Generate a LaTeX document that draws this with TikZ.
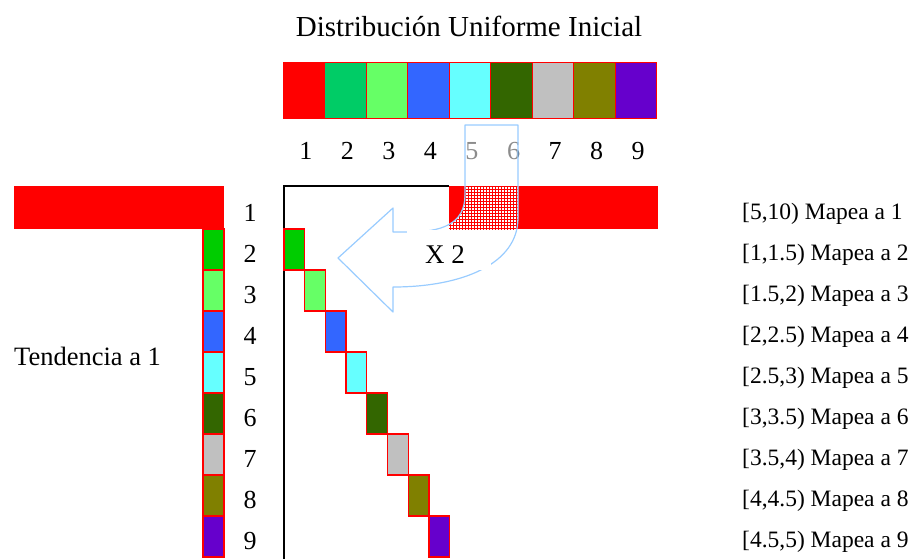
\documentclass[tikz,border=0pt]{standalone}
\usepackage{fontspec}
\setmainfont{Liberation Serif}
\usetikzlibrary{patterns}
\definecolor{cA}{HTML}{FF0000}
\definecolor{cBt}{HTML}{00CC66}
\definecolor{cB}{HTML}{00CC00}
\definecolor{cC}{HTML}{66FF66}
\definecolor{cD}{HTML}{3366FF}
\definecolor{cE}{HTML}{66FFFF}
\definecolor{cF}{HTML}{336600}
\definecolor{cG}{HTML}{C0C0C0}
\definecolor{cH}{HTML}{808000}
\definecolor{cI}{HTML}{6600CC}
\definecolor{arrowblue}{HTML}{99CCFF}
\tikzset{
  cellbox/.style={draw=red, line width=1.3pt},
  digit/.style={font=\fontsize{26}{26}\selectfont, anchor=base, inner sep=0pt},
  maplabel/.style={font=\fontsize{23.5}{23.5}\selectfont, anchor=base west, inner sep=0pt},
  frameline/.style={draw=black, line width=1.6pt},
}
\def\arrowpath{(465,125) -- (518,125) -- (518,218) .. controls (518,264) and (462,287) .. (393,287) -- (393,312) -- (338,258) -- (393,208) -- (393,232) -- (408,232) .. controls (440,232) and (465,225) .. (465,195) -- cycle}
\begin{document}
\begin{tikzpicture}[x=1pt,y=-1pt]
\useasboundingbox (0,0) rectangle (917,558);
% title
\node[font=\fontsize{29}{29}\selectfont, anchor=base, inner sep=0pt] (title) at (469,36) {Distribución Uniforme Inicial};
% top bar
\foreach \c [count=\k from 0] in {cA,cBt,cC,cD,cE,cF,cG,cH,cI}{
  \draw[cellbox, line width=1pt, fill=\c] (283+41.55*\k,62) rectangle (283+41.55*\k+41.55,118);
}
\foreach \k in {1,...,9}{
  \node[digit] (top\k) at (283+41.55*\k-20.8+2,159) {\k};
}
% left red bar
\fill[red] (14,186) rectangle (224,229);
% left column
\foreach \c [count=\k from 0] in {cB,cC,cD,cE,cF,cG,cH,cI}{
  \draw[cellbox, fill=\c] (203,229+41*\k) rectangle (224,270+41*\k);
}
% row labels
\node[digit] (row1) at (250,221) {1};
\foreach \k in {2,...,9}{
  \node[digit] (row\k) at (250,229+41*\k-41-7.5) {\k};
}
\node[font=\fontsize{26.5}{26.5}\selectfont, anchor=base west, inner sep=0pt] (tend) at (14,365) {Tendencia a 1};
% frame
\draw[frameline] (449,186) -- (284,186) -- (284,560);
\fill[red] (449,186) rectangle (658,229);
\foreach \c [count=\k from 0] in {cB,cC,cD,cE,cF,cG,cH,cI}{
  \draw[cellbox, fill=\c] (284+20.7*\k,229+41*\k) rectangle (304.7+20.7*\k,270+41*\k);
}
% curved arrow
\begin{scope}
  \clip \arrowpath;
  \fill[white, fill opacity=0.55] (300,100) rectangle (600,330);
  \clip (449,186) rectangle (658,229);
  \fill[white] (300,100) rectangle (600,330);
  \fill[pattern=grid, pattern color=red] (300,100) rectangle (600,330);
\end{scope}
\draw[arrowblue, line width=1.2pt, line join=round] \arrowpath;
\fill[white] (407,229.5) rectangle (491,270);
\node[font=\fontsize{27}{27}\selectfont, anchor=base, inner sep=0pt] (xtwo) at (445,263) {X 2};
% right labels
\foreach \t [count=\k from 1] in {{[5,10) Mapea a 1},{[1,1.5) Mapea a 2},{[1.5,2) Mapea a 3},{[2,2.5) Mapea a 4},{[2.5,3) Mapea a 5},{[3,3.5) Mapea a 6},{[3.5,4) Mapea a 7},{[4,4.5) Mapea a 8},{[4.5,5) Mapea a 9}}{
  \node[maplabel] (map\k) at (742,219+41*\k-41) {\t};
}
\end{tikzpicture}
\end{document}
